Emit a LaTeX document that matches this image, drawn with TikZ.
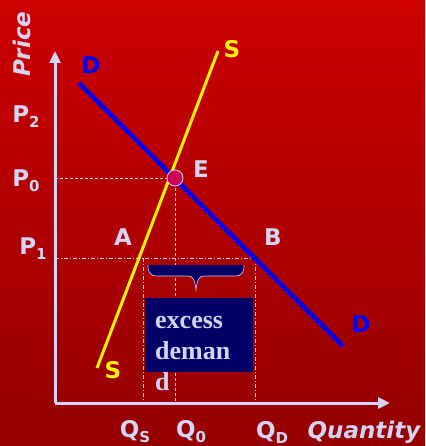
\documentclass[tikz,border=0pt]{standalone}
\usepackage{fontspec}
\setmainfont{DejaVu Sans}
\newfontfamily\boxfont{Liberation Serif}
\usetikzlibrary{arrows.meta}

\definecolor{lav}{RGB}{212,212,246}
\definecolor{bgtop}{RGB}{204,0,0}
\definecolor{bgbot}{RGB}{148,0,0}
\definecolor{navybox}{RGB}{0,0,102}
\definecolor{ptcol}{RGB}{204,0,85}

\newcommand{\lowsub}[1]{\raisebox{-5pt}{\fontsize{15}{15}\selectfont #1}}

\begin{document}
\begin{tikzpicture}[x=1pt, y=-1pt,
  lbl/.style={text=lav, font=\fontsize{23}{23}\selectfont\bfseries},
  axis/.style={draw=lav, line width=3pt, -{Triangle[length=12pt, width=11pt]}},
  guide/.style={draw=lav, line width=0.7pt, dash pattern=on 3pt off 2pt},
  guidedot/.style={draw=lav, line width=0.7pt, dash pattern=on 4pt off 2pt on 1pt off 2pt}]

  % --- Fondo ---
  \shade[top color=bgtop, bottom color=bgbot] (0,0) rectangle (425,446);
  \useasboundingbox (0,0) rectangle (425,446);

  % --- Ejes ---
  \coordinate (O)  at (55,403);
  \coordinate (ytop) at (55,51);
  \coordinate (xend) at (390,403);
  \draw[axis] (O) -- (ytop);
  \draw[axis] (O) -- (xend);
  \node[lbl, font=\fontsize{23}{23}\selectfont\bfseries\itshape, rotate=90]
    (price) at (22,44) {Price};
  \node[lbl, font=\fontsize{23}{23}\selectfont\bfseries\itshape]
    (quantity) at (364,432) {Quantity};

  % --- Puntos de la grafica ---
  \coordinate (E)  at (175,178);
  \coordinate (A)  at (143,258);
  \coordinate (B)  at (255,258);
  \coordinate (p0) at (55,178);
  \coordinate (p1) at (55,258);
  \coordinate (q0) at (175,403);
  \coordinate (qs) at (143,403);
  \coordinate (qd) at (255,403);

  % --- Lineas de referencia ---
  \draw[guide] (p0) -- (E) -- (q0);
  \draw[guidedot] (p1) -- (B);
  \draw[guidedot] (A) -- (qs);
  \draw[guidedot] (B) -- (qd);

  % --- Curvas de oferta y demanda ---
  \coordinate (d1) at (79,83);
  \coordinate (d2) at (343,346);
  \coordinate (s1) at (97,368);
  \coordinate (s2) at (218,51);
  \draw[blue, line width=4.5pt] (d1) -- (d2);
  \draw[yellow, line width=3pt] (s1) -- (s2);

  % --- Equilibrio ---
  \fill[ptcol, draw=lav, line width=0.8pt] (E) circle[radius=8pt];

  % --- Exceso de demanda ---
  \fill[navybox] (148,265) -- (244,265) .. controls (244,273) and (242,276) .. (234,276)
    -- (204,276) .. controls (199,276) and (197,280) .. (196,290)
    .. controls (195,280) and (193,276) .. (188,276)
    -- (158,276) .. controls (150,276) and (148,273) .. (148,265) -- cycle;
  \draw[lav, line width=0.6pt] (244,265) .. controls (244,273) and (242,276) .. (234,276)
    -- (204,276) .. controls (199,276) and (197,280) .. (196,290)
    .. controls (195,280) and (193,276) .. (188,276)
    -- (158,276) .. controls (150,276) and (148,273) .. (148,265);
  \fill[navybox] (145,298) rectangle (253,372);
  \node[text=lav, font=\boxfont\fontsize{26}{31}\selectfont\bfseries,
    align=left, anchor=base west, inner sep=0pt] (excess) at (155,390)
    {excess\\deman\\d};

  % --- Etiquetas ---
  \node[lbl, text=blue] (dtop) at (91,65) {D};
  \node[lbl, text=blue] (dbot) at (361,324) {D};
  \node[lbl, text=yellow] (stop) at (232,49) {S};
  \node[lbl, text=yellow] (sbot) at (113,370) {S};
  \node[lbl] (lE) at (201,169) {E};
  \node[lbl] (lA) at (123,237) {A};
  \node[lbl] (lB) at (273,237) {B};
  \node[lbl] (P2) at (26,117) {P\lowsub{2}};
  \node[lbl] (P0) at (26,181) {P\lowsub{0}};
  \node[lbl] (P1) at (33,249) {P\lowsub{1}};
  \node[lbl] (QS) at (135,432) {Q\lowsub{S}};
  \node[lbl] (Q0) at (191,432) {Q\lowsub{0}};
  \node[lbl] (QD) at (272,432) {Q\lowsub{D}};

\end{tikzpicture}
\end{document}
